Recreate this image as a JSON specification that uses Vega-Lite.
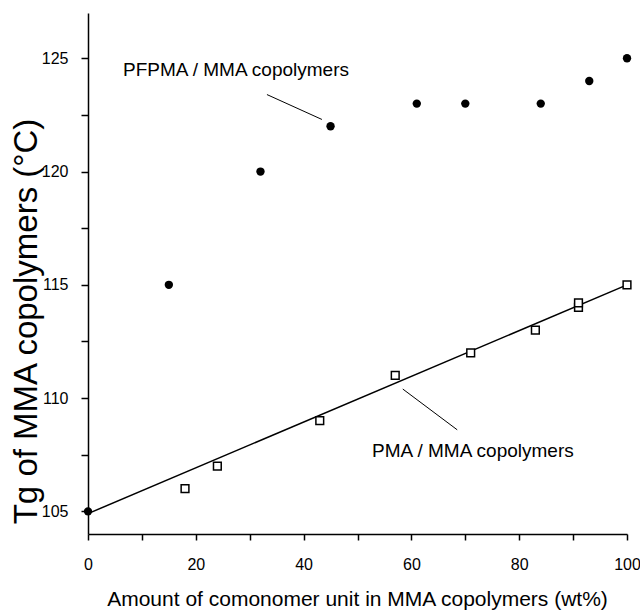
{
  "$schema": "https://vega.github.io/schema/vega-lite/v6.json",
  "autosize": {"type": "none"},
  "padding": {"left": 88, "top": 13, "right": 13, "bottom": 78},
  "width": 539,
  "height": 521,
  "background": "white",
  "config": {"view": {"stroke": null}},
  "datasets": {
    "pts": [
      {"series": "PFPMA", "x": 0, "y": 105},
      {"series": "PFPMA", "x": 15, "y": 115},
      {"series": "PFPMA", "x": 32, "y": 120},
      {"series": "PFPMA", "x": 45, "y": 122},
      {"series": "PFPMA", "x": 61, "y": 123},
      {"series": "PFPMA", "x": 70, "y": 123},
      {"series": "PFPMA", "x": 84, "y": 123},
      {"series": "PFPMA", "x": 93, "y": 124},
      {"series": "PFPMA", "x": 100, "y": 125},
      {"series": "PMA", "x": 18, "y": 106},
      {"series": "PMA", "x": 24, "y": 107},
      {"series": "PMA", "x": 43, "y": 109},
      {"series": "PMA", "x": 57, "y": 111},
      {"series": "PMA", "x": 71, "y": 112},
      {"series": "PMA", "x": 83, "y": 113},
      {"series": "PMA", "x": 91, "y": 114},
      {"series": "PMA", "x": 91, "y": 114.2},
      {"series": "PMA", "x": 100, "y": 115}
    ],
    "fit": [
      {"x": 0, "y": 104.9},
      {"x": 100, "y": 115}
    ],
    "leaders": [
      {"x": 33.2, "y": 123.4, "x2": 43.4, "y2": 122.3},
      {"x": 58.4, "y": 110.4, "x2": 68.5, "y2": 108.6}
    ],
    "labels": [
      {"x": 6.5, "y": 124.2, "text": "PFPMA / MMA copolymers"},
      {"x": 52.7, "y": 107.4, "text": "PMA / MMA copolymers"}
    ]
  },
  "layer": [
    {
      "data": {"name": "fit"},
      "mark": {"type": "line", "color": "black", "strokeWidth": 1.5},
      "encoding": {
        "x": {
          "field": "x", "type": "quantitative",
          "scale": {"domain": [0, 100], "nice": false, "zero": false},
          "axis": {
            "values": [0, 10, 20, 30, 40, 50, 60, 70, 80, 90, 100],
            "labelExpr": "datum.value % 20 == 0 ? datum.label : ''",
            "grid": false,
            "domainColor": "black", "domainWidth": 1.5,
            "tickColor": "black", "tickWidth": 1.5, "tickSize": 6,
            "labelFont": "Liberation Sans, Arial, sans-serif",
            "labelFontSize": 16, "labelColor": "black", "labelPadding": 16,
            "labelFlush": false,
            "title": "Amount of comonomer unit in MMA copolymers (wt%)",
            "titleFont": "Liberation Sans, Arial, sans-serif",
            "titleFontSize": 21, "titleFontWeight": "normal", "titleColor": "black",
            "titleBaseline": "alphabetic", "titleY": 71, "titleX": 269
          }
        },
        "y": {
          "field": "y", "type": "quantitative",
          "scale": {"domain": [104, 127], "nice": false, "zero": false},
          "axis": {
            "values": [105, 107.5, 110, 112.5, 115, 117.5, 120, 122.5, 125],
            "labelExpr": "datum.value % 5 == 0 ? datum.label : ''",
            "grid": false,
            "domainColor": "black", "domainWidth": 1.5,
            "tickColor": "black", "tickWidth": 1.5, "tickSize": 7,
            "labelFont": "Liberation Sans, Arial, sans-serif",
            "labelFontSize": 16, "labelColor": "black", "labelPadding": 13,
            "labelFlush": false,
            "title": "Tg of MMA copolymers (°C)",
            "titleFont": "Liberation Sans, Arial, sans-serif",
            "titleFontSize": 33, "titleFontWeight": "normal", "titleColor": "black",
            "titleAngle": -90, "titleAlign": "center", "titleBaseline": "alphabetic",
            "titleX": -52, "titleY": 308
          }
        }
      }
    },
    {
      "data": {"name": "leaders"},
      "mark": {"type": "rule", "color": "black", "strokeWidth": 1},
      "encoding": {
        "x": {"field": "x", "type": "quantitative"},
        "y": {"field": "y", "type": "quantitative"},
        "x2": {"field": "x2"},
        "y2": {"field": "y2"}
      }
    },
    {
      "data": {"name": "pts"},
      "transform": [{"filter": "datum.series == 'PMA'"}],
      "mark": {"type": "point", "shape": "square", "filled": false, "fill": "white", "fillOpacity": 1, "stroke": "black", "strokeWidth": 1.5, "size": 60, "opacity": 1},
      "encoding": {
        "x": {"field": "x", "type": "quantitative"},
        "y": {"field": "y", "type": "quantitative"}
      }
    },
    {
      "data": {"name": "pts"},
      "transform": [{"filter": "datum.series == 'PFPMA'"}],
      "mark": {"type": "point", "shape": "circle", "filled": true, "color": "black", "size": 70, "opacity": 1},
      "encoding": {
        "x": {"field": "x", "type": "quantitative"},
        "y": {"field": "y", "type": "quantitative"}
      }
    },
    {
      "data": {"name": "labels"},
      "mark": {"type": "text", "align": "left", "baseline": "alphabetic", "font": "Liberation Sans, Arial, sans-serif", "fontSize": 19, "color": "black"},
      "encoding": {
        "x": {"field": "x", "type": "quantitative"},
        "y": {"field": "y", "type": "quantitative"},
        "text": {"field": "text"}
      }
    }
  ]
}
